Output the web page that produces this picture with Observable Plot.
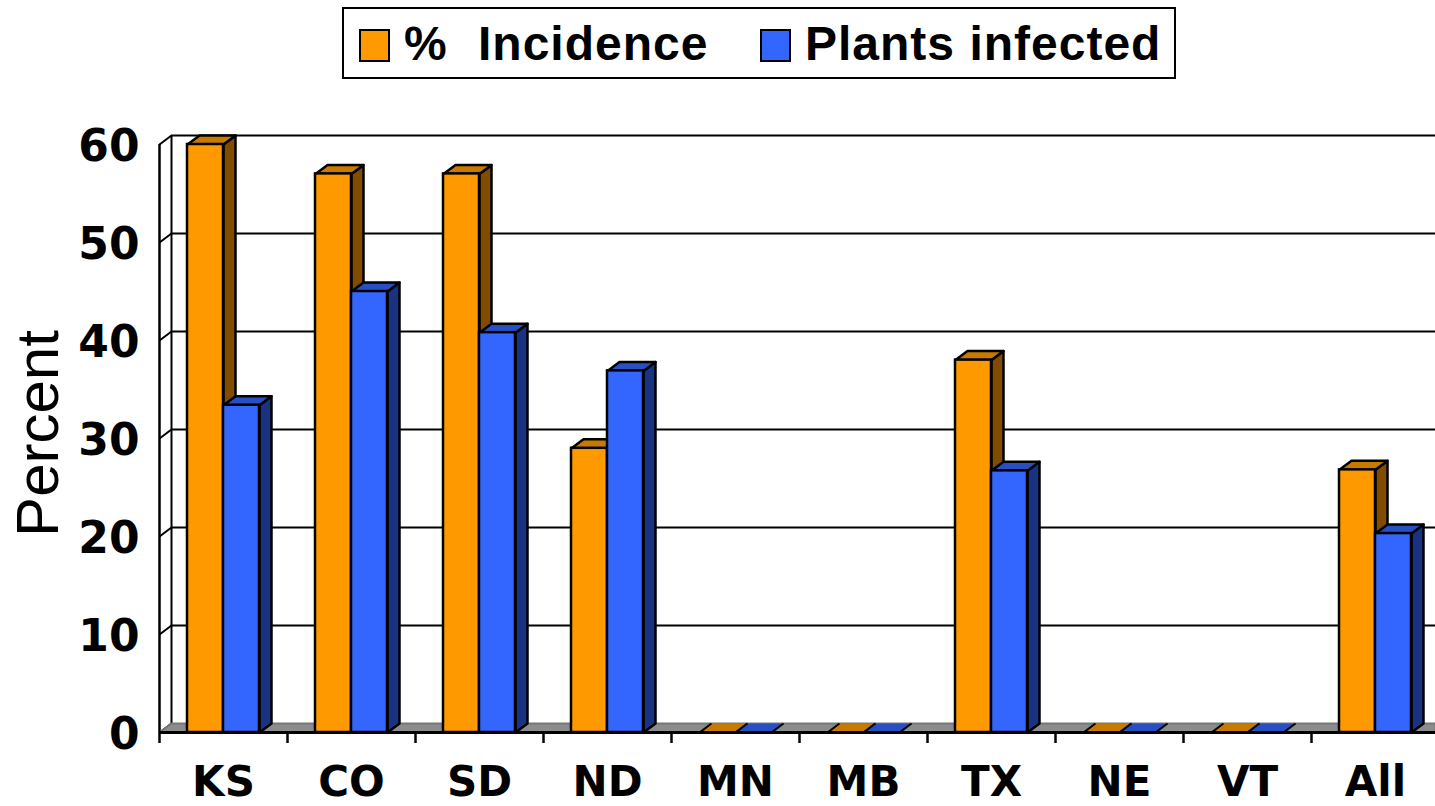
<!DOCTYPE html>
<html>
<head>
<meta charset="utf-8">
<script src="https://cdn.jsdelivr.net/npm/d3@7"></script>
<script src="https://cdn.jsdelivr.net/npm/@observablehq/plot@0.6"></script>
<style>
html,body{margin:0;padding:0;background:#fff;overflow:hidden}
#legend{position:relative;height:90px;width:1435px}
#box{position:absolute;left:342px;top:7px;width:830px;height:68px;border:2px solid #000;background:#fff}
.sw{position:absolute;top:20px;width:27px;height:29px;border:2px solid #000}
.lb{position:absolute;top:7px;font:bold 48px/56px "Liberation Sans",sans-serif;letter-spacing:1px;color:#000;white-space:nowrap}
#chart svg{display:block}
</style>
</head>
<body>
<div id="legend"><div id="box">
  <div class="sw" style="left:15px;background:#FF9900"></div>
  <div class="lb" style="left:60px;word-spacing:16px">% Incidence</div>
  <div class="sw" style="left:416px;background:#3366FF"></div>
  <div class="lb" style="left:461px">Plants infected</div>
</div></div>
<div id="chart"></div>
<script>
const categories = ["KS","CO","SD","ND","MN","MB","TX","NE","VT","All"];
const incidence  = [60, 57, 57, 29, 0, 0, 38, 0, 0, 26.8];
const infected   = [33.4, 45, 40.8, 36.9, 0, 0, 26.7, 0, 0, 20.3];
const yTicks     = [0,10,20,30,40,50,60];

const pxX = 128, pxY = 9.8;           // pixels per category, pixels per percent
const dX = 12/pxX, dY = 9/pxY;        // 3-D depth in data units
const barW = 36/pxX, barOff = 28/pxX;
const xMax = (1435-159)/pxX;
const idx = categories.map((_, i) => i);

function poly(id, pts){ return [...pts, pts[0]].map(([x,y]) => ({id,x,y})); }
function faces(values, start){
  const side = [], top = [], flat = [], edges = [];
  values.forEach((v,i) => {
    const a = i + start, b = a + barW;
    const shape = [[a,v],[a+dX,v+dY],[b+dX,v+dY],[b,v]];
    if (v > 0) {
      side.push(...poly("s"+i, [[b,0],[b+dX,dY],[b+dX,v+dY],[b,v]]));
      top.push(...poly("t"+i, shape));
    } else {
      flat.push(...poly("f"+i, shape));
      edges.push({x1:a, x2:a+dX}, {x1:b, x2:b+dX});
    }
  });
  return {side, top, flat, edges};
}
function seriesMarks(values, start, front, topC, sideC){
  const {side, top, flat, edges} = faces(values, start);
  const opts = {x:"x", y:"y", z:"id", stroke:"#000", strokeWidth:2.5, strokeLinejoin:"round"};
  const rows = idx.filter(i => values[i] > 0);
  return [
    Plot.line(flat, {x:"x", y:"y", z:"id", fill:topC, stroke:"none"}),
    Plot.link(edges, {x1:"x1", x2:"x2", y1:0, y2:dY, stroke:"#000", strokeWidth:2}),
    Plot.line(side, {...opts, fill:sideC}),
    Plot.line(top, {...opts, fill:topC}),
    Plot.rect(rows, {x1:i=>i+start, x2:i=>i+start+barW, y1:0, y2:i=>values[i],
                     fill:front, stroke:"#000", strokeWidth:2.5})
  ];
}

const floor = poly("floor", [[0,0],[dX,dY],[xMax,dY],[xMax,0]]);
const tickFont = {fontFamily:"DejaVu Sans", fontWeight:"bold", fill:"#000", stroke:"none"};

const chart = Plot.plot({
  width:1435, height:716,
  marginLeft:159, marginRight:0, marginTop:54, marginBottom:74,
  x:{domain:[0,xMax], axis:null},
  y:{domain:[0,60], axis:null},
  style:{background:"#fff", overflow:"hidden"},
  marks:[
    // back wall gridlines and side wall
    Plot.ruleY(yTicks.slice(1), {y:d=>d+dY, x1:dX, x2:xMax, stroke:"#000", strokeWidth:2, strokeOpacity:1}),
    Plot.ruleX([dX], {y1:dY, y2:60+dY, stroke:"#000", strokeWidth:2, strokeOpacity:1}),
    Plot.ruleX([0], {y1:0, y2:60, stroke:"#000", strokeWidth:2.5, strokeOpacity:1}),
    Plot.link(yTicks, {x1:0, x2:dX, y1:d=>d, y2:d=>d+dY, stroke:"#000", strokeWidth:2}),
    // floor
    Plot.line(floor, {x:"x", y:"y", z:"id", fill:"#8C8C8C", stroke:"#777", strokeWidth:2}),
    // bars
    ...seriesMarks(incidence, barOff, "#FF9900", "#C67A00", "#804D00"),
    ...seriesMarks(infected, barOff+barW, "#3366FF", "#2850C4", "#1A3380"),
    Plot.ruleY([0], {x1:0, x2:xMax, stroke:"#000", strokeWidth:3, strokeOpacity:1}),
    // axes
    Plot.axisY({ticks:yTicks, tickSize:12, tickPadding:8, label:null, stroke:"#000", strokeWidth:2.5, strokeOpacity:1,
                fontSize:44, dy:2, ...tickFont}),
    Plot.axisX({ticks:d3.range(0,10), tickFormat:()=>"", tickSize:11, label:null, stroke:"#000", strokeWidth:2.5, strokeOpacity:1}),
    Plot.axisX({ticks:idx.map(i=>i+.5), tickFormat:(d)=>categories[Math.floor(d)], tickSize:0, tickPadding:34, label:null,
                fontSize:42, ...tickFont}),
    Plot.text(["Percent"], {frameAnchor:"left", textAnchor:"middle", dx:-121, dy:-5, rotate:-90, fontSize:60,
                fontFamily:"Liberation Sans", fill:"#000"})
  ]
});
document.getElementById("chart").append(chart);
</script>
</body>
</html>
